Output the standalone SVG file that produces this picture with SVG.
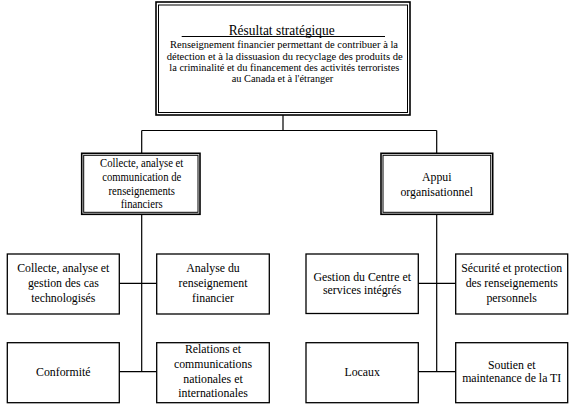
<svg xmlns="http://www.w3.org/2000/svg" width="572" height="409" viewBox="0 0 572 409">
<style>
.bg{fill:#fff}
.box{fill:#fff;stroke:#000;stroke-width:1.3}
.outer{fill:#fff;stroke:#000;stroke-width:1.6}
.inner{fill:none;stroke:#000;stroke-width:1}
.con{fill:none;stroke:#000;stroke-width:1.2}
text{font-family:"Liberation Serif","Times New Roman",serif;fill:#000;text-anchor:middle}
.t13{font-size:13px}
.t12{font-size:12px}
.t11{font-size:11px}
.t14{font-size:14px}
</style>
<rect class="bg" x="0" y="0" width="572" height="409"/>
<g id="connectors">
<path class="con" d="M283,115V130.5M141.7,130.5H436.7M141.7,130.5V153M436.7,130.5V153"/>
<path class="con" d="M141.7,214V371.7M119.3,283.3H156.7M119.3,371.7H156.7"/>
<path class="con" d="M436.7,214V371.7M418.3,283.3H455.7M418.3,371.7H455.7"/>
</g>
<g id="node-resultat">
<rect class="outer" x="156" y="2" width="254" height="113"/>
<rect class="inner" x="158.5" y="5" width="249" height="107.5"/>
<text class="t14" x="281.7" y="35" textLength="106" lengthAdjust="spacingAndGlyphs">Résultat stratégique</text>
<line x1="181.7" y1="36.5" x2="385" y2="36.5" stroke="#000" stroke-width="1"/>
<text class="t11" x="284" y="48" textLength="228" lengthAdjust="spacingAndGlyphs">Renseignement financier permettant de contribuer à la</text>
<text class="t11" x="284.7" y="59.5" textLength="236" lengthAdjust="spacingAndGlyphs">détection et à la dissuasion du recyclage des produits de</text>
<text class="t11" x="284.3" y="70.7" textLength="230" lengthAdjust="spacingAndGlyphs">la criminalité et du financement des activités terroristes</text>
<text class="t11" x="282.5" y="82" textLength="101.6" lengthAdjust="spacingAndGlyphs">au Canada et à l'étranger</text>
</g>
<g id="node-collecte-comm">
<rect class="outer" x="81.7" y="153.3" width="118.3" height="61"/>
<rect class="inner" x="83.7" y="155.3" width="114.3" height="57"/>
<g transform="translate(141.7,0) scale(0.89,1)" class="t12">
<text x="0" y="167.5">Collecte, analyse et</text>
<text x="0" y="181.5">communication de</text>
<text x="0" y="195.5">renseignements</text>
<text x="0" y="208.5">financiers</text>
</g>
</g>
<g id="node-appui">
<rect class="outer" x="381" y="153.3" width="111.7" height="61"/>
<rect class="inner" x="383" y="155.3" width="107.7" height="57"/>
<g transform="translate(436.7,0) scale(0.91,1)" class="t13">
<text x="0" y="181">Appui</text>
<text x="0" y="196">organisationnel</text>
</g>
</g>
<g id="node-collecte-cas">
<rect class="box" x="7.3" y="254" width="112" height="60"/>
<g transform="translate(63.3,0) scale(0.91,1)" class="t13">
<text x="0" y="272.5">Collecte, analyse et</text>
<text x="0" y="287.5">gestion des cas</text>
<text x="0" y="302.5">technologisés</text>
</g>
</g>
<g id="node-analyse">
<rect class="box" x="156.7" y="254" width="112.6" height="60"/>
<g transform="translate(213,0) scale(0.91,1)" class="t13">
<text x="0" y="272.5">Analyse du</text>
<text x="0" y="287.5">renseignement</text>
<text x="0" y="302.5">financier</text>
</g>
</g>
<g id="node-conformite">
<rect class="box" x="7.3" y="342.7" width="112" height="60"/>
<g transform="translate(63.3,0) scale(0.91,1)" class="t13">
<text x="0" y="376">Conformité</text>
</g>
</g>
<g id="node-relations">
<rect class="box" x="156.7" y="342.7" width="112.6" height="60"/>
<g transform="translate(213,0) scale(0.91,1)" class="t13">
<text x="0" y="353.5">Relations et</text>
<text x="0" y="368.5">communications</text>
<text x="0" y="383.5">nationales et</text>
<text x="0" y="397.5">internationales</text>
</g>
</g>
<g id="node-gestion">
<rect class="box" x="306" y="254" width="112.3" height="59.5"/>
<g transform="translate(362.2,0) scale(0.91,1)" class="t13">
<text x="0" y="281">Gestion du Centre et</text>
<text x="0" y="294.5">services intégrés</text>
</g>
</g>
<g id="node-securite">
<rect class="box" x="455.7" y="254" width="112" height="60"/>
<g transform="translate(511.7,0) scale(0.91,1)" class="t13">
<text x="0" y="272.5">Sécurité et protection</text>
<text x="0" y="287.5">des renseignements</text>
<text x="0" y="302.5">personnels</text>
</g>
</g>
<g id="node-locaux">
<rect class="box" x="306" y="342.7" width="112.3" height="60"/>
<g transform="translate(362.2,0) scale(0.91,1)" class="t13">
<text x="0" y="376">Locaux</text>
</g>
</g>
<g id="node-soutien">
<rect class="box" x="455.7" y="342.7" width="112" height="60"/>
<g transform="translate(511.7,0) scale(0.91,1)" class="t13">
<text x="0" y="369">Soutien et</text>
<text x="0" y="382.5">maintenance de la TI</text>
</g>
</g>
</svg>
